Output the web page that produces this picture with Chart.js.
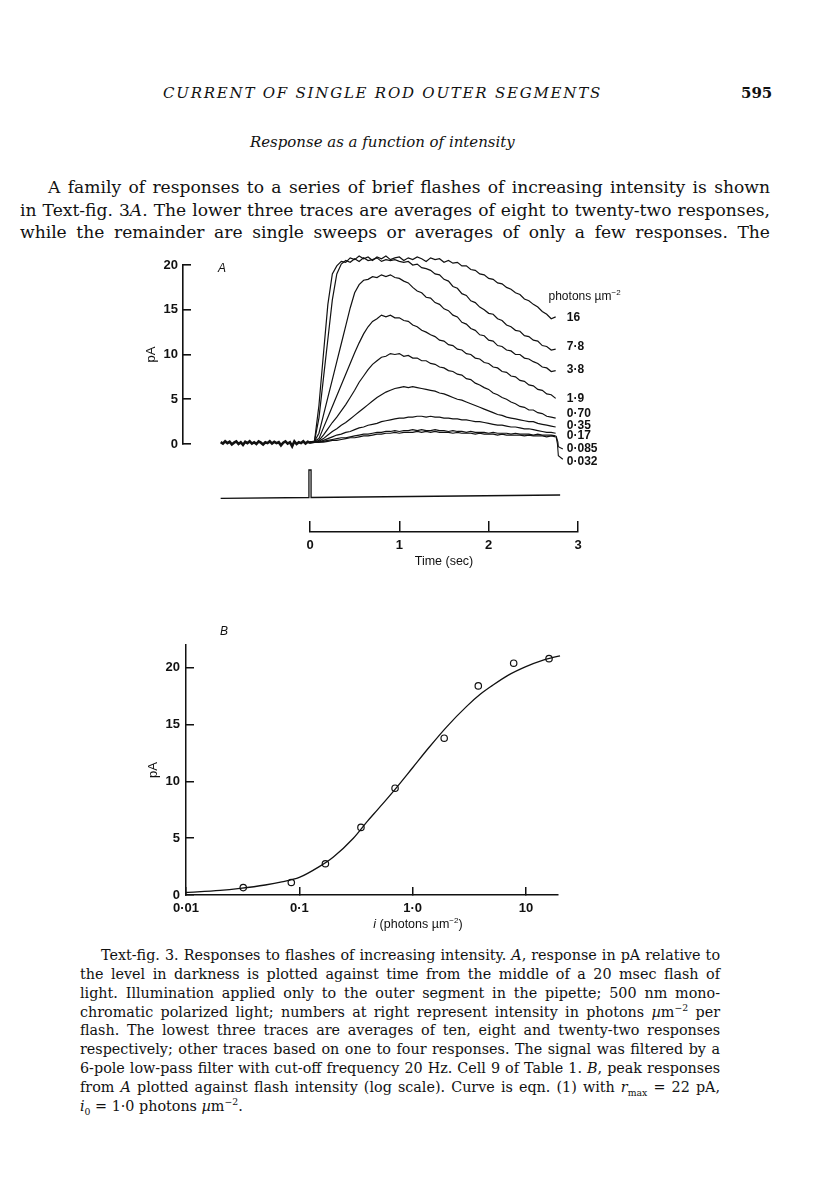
<!DOCTYPE html>
<html>
<head>
<meta charset="utf-8">
<script src="https://cdn.jsdelivr.net/npm/chart.js@4.4.1/dist/chart.umd.min.js"></script>
<style>
  body { margin:0; background:#fff; width:816px; height:1191px; position:relative; overflow:hidden;
         font-family:"DejaVu Serif", serif; color:#111; }
  .t { position:absolute; white-space:nowrap; }
  .j { position:absolute; text-align:justify; text-align-last:justify; }
  .cap { font-size:12.4px; line-height:18px; }
  .body { font-size:15px; line-height:20px; }
  sup, sub { font-size:0.65em; line-height:0; }
  canvas { position:absolute; left:0; }
</style>
</head>
<body>

<div class="t" id="runhead" style="left:163px;top:84px;font-size:15px;font-style:italic;">CURRENT OF SINGLE ROD OUTER SEGMENTS</div>
<div class="t" style="left:741px;top:84px;font-size:15px;font-weight:bold;">595</div>
<div class="t" id="subhead" style="left:250px;top:133px;font-size:14px;font-style:italic;">Response as a function of intensity</div>

<div class="j body" style="left:48px;top:177px;width:722px;">A family of responses to a series of brief flashes of increasing intensity is shown</div>
<div class="j body" style="left:20px;top:200px;width:750px;">in Text-fig. 3<i>A</i>. The lower three traces are averages of eight to twenty-two responses,</div>
<div class="j body" style="left:20px;top:222px;width:750px;">while the remainder are single sweeps or averages of only a few responses. The</div>

<canvas id="chartA" width="816" height="360" style="top:240px"></canvas>
<canvas id="chartT" width="816" height="70" style="top:510px"></canvas>
<canvas id="chartB" width="816" height="320" style="top:620px"></canvas>

<div class="j cap" style="left:101px;top:946px;width:619px;">Text-fig. 3. Responses to flashes of increasing intensity. <i>A</i>, response in pA relative to</div>
<div class="j cap" style="left:80px;top:965px;width:640px;">the level in darkness is plotted against time from the middle of a 20 msec flash of</div>
<div class="j cap" style="left:80px;top:984px;width:640px;">light. Illumination applied only to the outer segment in the pipette; 500 nm mono-</div>
<div class="j cap" style="left:80px;top:1003px;width:640px;">chromatic polarized light; numbers at right represent intensity in photons <i>µ</i>m<sup>−2</sup> per</div>
<div class="j cap" style="left:80px;top:1021px;width:640px;">flash. The lowest three traces are averages of ten, eight and twenty-two responses</div>
<div class="j cap" style="left:80px;top:1040px;width:640px;">respectively; other traces based on one to four responses. The signal was filtered by a</div>
<div class="j cap" style="left:80px;top:1059px;width:640px;">6-pole low-pass filter with cut-off frequency 20 Hz. Cell 9 of Table 1. <i>B</i>, peak responses</div>
<div class="j cap" style="left:80px;top:1078px;width:640px;">from <i>A</i> plotted against flash intensity (log scale). Curve is eqn. (1) with <i>r</i><sub>max</sub> = 22 pA,</div>
<div class="t cap" style="left:80px;top:1097px;"><i>i</i><sub>0</sub> = 1·0 photons <i>µ</i>m<sup>−2</sup>.</div>

<script>
// ---------- panel A : current traces (pA) against time (sec) ----------
var traceLabels = ['16', '7·8', '3·8', '1·9', '0·70', '0·35', '0·17', '0·085', '0·032'];

var traceTime = [0, 0.05, 0.1, 0.15, 0.2, 0.25, 0.3, 0.35, 0.4, 0.45,
  0.5, 0.55, 0.6, 0.65, 0.7, 0.75, 0.8, 0.85, 0.9, 0.95,
  1.0, 1.05, 1.1, 1.15, 1.2, 1.25, 1.3, 1.35, 1.4, 1.45,
  1.5, 1.55, 1.6, 1.65, 1.7, 1.75, 1.8, 1.85, 1.9, 1.95,
  2.0, 2.05, 2.1, 2.15, 2.2, 2.25, 2.3, 2.35, 2.4, 2.45,
  2.5, 2.55, 2.6, 2.65, 2.7, 2.75];

var trace16 = [0.2, 0.3, 4.3, 10.0, 15.6, 19.0, 19.9, 20.4, 20.3, 20.8,
  20.6, 21.0, 20.7, 20.9, 20.5, 20.9, 20.7, 21.0, 20.6, 20.8,
  20.9, 20.5, 20.8, 20.6, 20.9, 20.7, 20.4, 20.8, 20.6, 20.7,
  20.3, 20.5, 20.2, 20.3, 19.9, 19.9, 19.5, 19.4, 19.0, 18.9,
  18.5, 18.4, 18.0, 17.9, 17.5, 17.3, 16.9, 16.7, 16.2, 16.0,
  15.6, 15.3, 14.8, 14.5, 14.0, 14.2];
var trace7_8 = [0.2, 0.3, 2.9, 7.3, 11.7, 16.1, 19.0, 20.1, 20.5, 20.3,
  20.7, 20.4, 20.8, 20.5, 20.6, 20.8, 20.4, 20.6, 20.5, 20.6,
  20.4, 20.3, 20.4, 20.0, 20.1, 19.7, 19.6, 19.4, 19.0, 18.9,
  18.4, 18.2, 17.6, 17.4, 16.8, 16.6, 16.0, 15.8, 15.3, 15.0,
  14.6, 14.5, 14.0, 13.8, 13.3, 13.1, 12.7, 12.6, 12.1, 12.0,
  11.6, 11.5, 11.0, 10.9, 10.5, 10.6];
var trace3_8 = [0.2, 0.3, 1.2, 3.2, 5.2, 7.2, 9.2, 11.2, 13.2, 15.2,
  16.9, 17.8, 18.3, 18.4, 18.7, 18.6, 18.9, 18.7, 18.9, 18.6,
  18.5, 18.2, 18.0, 17.5, 17.1, 16.9, 16.4, 16.3, 15.8, 15.6,
  15.1, 14.9, 14.4, 14.2, 13.6, 13.4, 12.9, 12.7, 12.2, 12.1,
  11.6, 11.5, 11.0, 10.9, 10.5, 10.4, 10.0, 10.0, 9.6, 9.5,
  9.2, 9.0, 8.6, 8.5, 8.1, 8.2];
var trace1_9 = [0.2, 0.3, 0.6, 1.8, 3.0, 4.2, 5.4, 6.6, 7.8, 9.0,
  10.2, 11.3, 12.3, 13.1, 13.7, 14.0, 14.4, 14.2, 14.4, 14.1,
  14.1, 13.8, 13.7, 13.3, 13.1, 12.7, 12.5, 12.2, 12.0, 11.6,
  11.5, 11.1, 11.0, 10.6, 10.5, 10.1, 10.0, 9.6, 9.5, 9.1,
  9.0, 8.6, 8.5, 8.1, 8.0, 7.6, 7.5, 7.1, 7.0, 6.6,
  6.5, 6.1, 6.0, 5.6, 5.5, 5.1];
var trace0_70 = [0.2, 0.25, 0.4, 1.0, 1.7, 2.4, 3.0, 3.7, 4.4, 5.2,
  6.0, 6.9, 7.6, 8.3, 8.9, 9.3, 9.7, 9.8, 10.1, 10.0,
  10.1, 9.8, 9.9, 9.6, 9.6, 9.3, 9.3, 9.0, 8.9, 8.6,
  8.5, 8.2, 8.1, 7.8, 7.7, 7.3, 7.2, 6.8, 6.6, 6.3,
  6.1, 5.7, 5.5, 5.2, 5.0, 4.7, 4.5, 4.2, 4.1, 3.8,
  3.8, 3.5, 3.4, 3.1, 3.0, 2.9];
var trace0_35 = [0.2, 0.2, 0.3, 0.6, 1.0, 1.4, 1.7, 2.1, 2.4, 2.8,
  3.2, 3.6, 4.0, 4.4, 4.8, 5.2, 5.5, 5.8, 6.0, 6.2,
  6.3, 6.4, 6.3, 6.4, 6.3, 6.2, 6.1, 6.0, 5.9, 5.7,
  5.6, 5.4, 5.2, 5.0, 4.9, 4.7, 4.5, 4.3, 4.1, 3.9,
  3.7, 3.5, 3.3, 3.2, 3.0, 2.9, 2.8, 2.7, 2.6, 2.5,
  2.5, 2.3, 2.2, 2.1, 2.0, 1.9];
var trace0_17 = [0.2, 0.2, 0.2, 0.4, 0.6, 0.8, 1.0, 1.1, 1.3, 1.4,
  1.6, 1.8, 1.9, 2.1, 2.2, 2.3, 2.5, 2.6, 2.7, 2.8,
  2.9, 2.9, 3.0, 3.0, 3.1, 3.1, 3.0, 3.1, 3.0, 3.0,
  2.9, 2.9, 2.8, 2.8, 2.7, 2.7, 2.6, 2.5, 2.5, 2.4,
  2.3, 2.2, 2.1, 2.1, 2.0, 1.9, 1.9, 1.8, 1.7, 1.7,
  1.6, 1.5, 1.4, 1.3, 1.3, 1.2];
var trace0_085 = [0.2, 0.2, 0.2, 0.3, 0.4, 0.5, 0.6, 0.7, 0.7, 0.8,
  0.9, 1.0, 1.1, 1.1, 1.2, 1.3, 1.3, 1.4, 1.4, 1.5,
  1.4, 1.5, 1.5, 1.6, 1.5, 1.6, 1.5, 1.5, 1.6, 1.5,
  1.5, 1.4, 1.5, 1.4, 1.4, 1.3, 1.4, 1.3, 1.3, 1.3,
  1.2, 1.3, 1.2, 1.2, 1.2, 1.1, 1.2, 1.1, 1.1, 1.1,
  1.0, 1.1, 1.0, 1.0, 1.0, 0.9];
var trace0_032 = [0.2, 0.2, 0.2, 0.2, 0.3, 0.4, 0.4, 0.5, 0.6, 0.7,
  0.7, 0.8, 0.9, 0.9, 1.0, 1.1, 1.1, 1.2, 1.2, 1.3,
  1.2, 1.3, 1.3, 1.3, 1.4, 1.3, 1.4, 1.3, 1.4, 1.3,
  1.3, 1.3, 1.2, 1.3, 1.2, 1.2, 1.2, 1.1, 1.2, 1.1,
  1.1, 1.1, 1.0, 1.1, 1.0, 1.0, 1.0, 1.0, 0.9, 1.0,
  0.9, 0.9, 0.9, 0.8, 0.9, 0.8];

// dark baseline before the flash (all traces on top of each other)
var baselineTime = [-1.0, -0.975, -0.95, -0.925, -0.9, -0.875, -0.85, -0.825, -0.8, -0.775,
  -0.75, -0.725, -0.7, -0.675, -0.65, -0.625, -0.6, -0.575, -0.55, -0.525,
  -0.5, -0.475, -0.45, -0.425, -0.4, -0.375, -0.35, -0.325, -0.3, -0.275,
  -0.25, -0.225, -0.2, -0.175, -0.15, -0.125, -0.1, -0.075, -0.05, -0.025,
  0, 0.025, 0.05];
var baselineCurrent = [0.2, 0.05, 0.3, 0.1, 0.25, -0.05, 0.15, 0.3, 0.0, 0.2,
  -0.1, 0.25, 0.1, 0.3, 0.05, 0.2, 0.0, 0.3, 0.15, -0.05,
  0.2, 0.1, 0.3, 0.05, 0.25, 0.1, 0.2, -0.15, 0.15, 0.3,
  0.05, 0.2, -0.25, 0.3, 0.0, 0.2, 0.1, 0.3, 0.05, 0.25,
  0.15, 0.2, 0.25];

// flash monitor (arbitrary units, 1 = flash on)
var stimTime = [-1.0, -0.012, -0.012, 0.012, 0.012, 2.8];
var stimLevel = [-0.03, 0.0, 1, 1, 0.0, 0.09];

var currentTicks = [0, 5, 10, 15, 20];
var timeTicks = [0, 1, 2, 3];

// ---------- panel B : peak response against flash intensity ----------
var flashIntensity = [0.032, 0.085, 0.17, 0.35, 0.70, 1.9, 3.8, 7.8, 16];
var peakResponse = [0.65, 1.1, 2.75, 5.95, 9.4, 13.8, 18.4, 20.4, 20.8];

var curveIntensity = [0.01, 0.02, 0.03, 0.05, 0.07, 0.1, 0.15, 0.2, 0.3, 0.4, 0.5,
  0.7, 1.0, 1.4, 2.0, 3.0, 4.0, 5.0, 7.0, 10, 14, 20];
var curveResponse = [0.22, 0.4, 0.58, 0.88, 1.15, 1.55, 2.5, 3.35, 5.0, 6.5, 7.6,
  9.3, 11.2, 13.0, 14.8, 16.6, 17.7, 18.4, 19.35, 20.1, 20.65, 21.05];

var intensityTicks = [0.01, 0.1, 1, 10];
var intensityTickLabels = ['0·01', '0·1', '1·0', '10'];
var responseTicks = [0, 5, 10, 15, 20];

// ---------- annotation placement (data units) ----------
var labelTime = 2.875;
var labelLevel = [14.1, 10.9, 8.3, 5.1, 3.35, 2.1, 0.9, -0.56, -2.0];
var leaderLines = [
  [[2.755, 0.9], [2.775, 0.2], [2.78, -0.3], [2.83, -0.55]],
  [[2.755, 0.8], [2.77, 0.0], [2.78, -1.3], [2.83, -1.7]]
];

var INK = '#111';
var SANS = '"Liberation Sans", Arial, sans-serif';
Chart.defaults.font.family = SANS;
Chart.defaults.color = INK;

function xy(xs, ys) {
  return xs.map(function(x, i) { return {x: x, y: ys[i]}; });
}

function drawRich(ctx, parts, x, y, centered) {
  var w = 0;
  parts.forEach(function(p) { ctx.font = p.font; w += ctx.measureText(p.text).width; });
  var cx = centered ? x - w / 2 : x;
  parts.forEach(function(p) {
    ctx.font = p.font;
    ctx.fillText(p.text, cx, y + (p.dy || 0));
    cx += ctx.measureText(p.text).width;
  });
}

function line(data, width, axis) {
  return {
    data: data, showLine: true, borderColor: INK, borderWidth: width,
    pointRadius: 0, tension: 0, clip: false, yAxisID: axis || 'y'
  };
}

// ---------- chart A ----------
var traces = [trace16, trace7_8, trace3_8, trace1_9, trace0_70, trace0_35, trace0_17, trace0_085, trace0_032];
var datasetsA = traces.map(function(vals) { return line(xy(traceTime, vals), 1.2); });
datasetsA.push(line(xy(baselineTime, baselineCurrent), 2.6));
datasetsA.push(line(xy(stimTime, stimLevel), 1.3, 'stim'));
leaderLines.forEach(function(pts) {
  datasetsA.push(line(pts.map(function(p) { return {x: p[0], y: p[1]}; }), 1.1));
});

var labelsA = {
  id: 'labelsA',
  afterDraw: function(chart) {
    var ctx = chart.ctx, xs = chart.scales.x, ys = chart.scales.y;
    ctx.save();
    ctx.fillStyle = INK;
    ctx.textBaseline = 'middle';
    ctx.textAlign = 'left';
    ctx.font = 'bold 12px ' + SANS;
    traceLabels.forEach(function(lab, i) {
      ctx.fillText(lab, xs.getPixelForValue(labelTime), ys.getPixelForValue(labelLevel[i]));
    });
    drawRich(ctx, [
      {text: 'photons µm', font: '12px ' + SANS},
      {text: '−2', font: '8px ' + SANS, dy: -4}
    ], xs.getPixelForValue(2.67), ys.getPixelForValue(16.5), false);
    ctx.font = 'italic 12px ' + SANS;
    ctx.fillText('A', chart.chartArea.left + 35, chart.chartArea.top + 4);
    ctx.restore();
  }
};

new Chart(document.getElementById('chartA'), {
  type: 'scatter',
  data: {datasets: datasetsA},
  options: {
    responsive: false, animation: false, devicePixelRatio: 1,
    layout: {padding: {left: 143, right: 238, top: 25, bottom: 156}},
    plugins: {legend: {display: false}, tooltip: {enabled: false}},
    scales: {
      x: {type: 'linear', display: false, min: -1.4216, max: 3},
      y: {
        type: 'linear', min: 0, max: 20,
        afterFit: function(s) { s.width = 40; },
        afterBuildTicks: function(s) { s.ticks = currentTicks.map(function(v) { return {value: v}; }); },
        border: {display: true, color: INK, width: 1.6},
        grid: {drawOnChartArea: false, drawTicks: true, tickLength: -8, color: INK, lineWidth: 1.6},
        ticks: {padding: 13, color: INK, font: {size: 13, weight: 'bold'}},
        title: {display: true, text: 'pA', color: INK, padding: {top: 1, bottom: 0}, font: {size: 13}}
      },
      // flash monitor: 0 sits 53 px under the 0 pA line, 1 is 27.5 px higher
      stim: {axis: 'y', type: 'linear', display: false, position: 'right', min: 1.945, max: 8.454}
    }
  },
  plugins: [labelsA]
});

// ---------- time scale bar under panel A ----------
new Chart(document.getElementById('chartT'), {
  type: 'scatter',
  data: {datasets: []},
  options: {
    responsive: false, animation: false, devicePixelRatio: 1,
    layout: {padding: {left: 310, right: 238, top: 11, bottom: 7}},
    plugins: {legend: {display: false}, tooltip: {enabled: false}},
    scales: {
      x: {
        type: 'linear', min: 0, max: 3,
        afterFit: function(s) { s.height = 41; },
        afterBuildTicks: function(s) { s.ticks = timeTicks.map(function(v) { return {value: v}; }); },
        border: {display: true, color: INK, width: 1.5},
        grid: {drawOnChartArea: true, drawTicks: false, color: INK, lineWidth: 1.5},
        ticks: {padding: 6, color: INK, font: {size: 13, weight: 'bold'}},
        title: {display: true, text: 'Time (sec)', color: INK, padding: {top: 0, bottom: 4}, font: {size: 12.5}}
      },
      y: {display: false, min: 0, max: 1}
    }
  }
});

// ---------- chart B ----------
var labelsB = {
  id: 'labelsB',
  afterDraw: function(chart) {
    var ctx = chart.ctx, area = chart.chartArea;
    ctx.save();
    ctx.fillStyle = INK;
    ctx.textBaseline = 'middle';
    ctx.textAlign = 'left';
    ctx.font = 'italic 12px ' + SANS;
    ctx.fillText('B', area.left + 34, area.top - 13);
    drawRich(ctx, [
      {text: 'i', font: 'italic 12.5px ' + SANS},
      {text: ' (photons µm', font: '12.5px ' + SANS},
      {text: '−2', font: '8px ' + SANS, dy: -4},
      {text: ')', font: '12.5px ' + SANS}
    ], area.left + 232, area.bottom + 30, true);
    ctx.restore();
  }
};

new Chart(document.getElementById('chartB'), {
  type: 'scatter',
  data: {
    datasets: [
      {
        data: xy(curveIntensity, curveResponse), showLine: true, borderColor: INK, borderWidth: 1.3,
        pointRadius: 0, cubicInterpolationMode: 'monotone', clip: false
      },
      {
        data: xy(flashIntensity, peakResponse), showLine: false, pointRadius: 3.2,
        pointBorderWidth: 1.2, pointBorderColor: INK, pointBackgroundColor: '#fff'
      }
    ]
  },
  options: {
    responsive: false, animation: false, devicePixelRatio: 1,
    layout: {padding: {left: 146, right: 258, top: 25, bottom: 5}},
    plugins: {legend: {display: false}, tooltip: {enabled: false}},
    scales: {
      x: {
        type: 'logarithmic', min: 0.01, max: 19.2,
        afterFit: function(s) { s.height = 40; },
        afterBuildTicks: function(s) { s.ticks = intensityTicks.map(function(v) { return {value: v}; }); },
        border: {display: true, color: INK, width: 1.5},
        grid: {drawOnChartArea: false, drawTicks: true, tickLength: -8, color: INK, lineWidth: 1.5},
        ticks: {
          padding: 14, autoSkip: false, maxRotation: 0, color: INK, font: {size: 13, weight: 'bold'},
          callback: function(v) { return intensityTickLabels[intensityTicks.indexOf(v)]; }
        }
      },
      y: {
        type: 'linear', min: 0, max: 22,
        afterFit: function(s) { s.width = 40; },
        afterBuildTicks: function(s) { s.ticks = responseTicks.map(function(v) { return {value: v}; }); },
        border: {display: true, color: INK, width: 1.5},
        grid: {drawOnChartArea: false, drawTicks: true, tickLength: -8, color: INK, lineWidth: 1.5},
        ticks: {padding: 14, color: INK, font: {size: 13, weight: 'bold'}},
        title: {display: true, text: 'pA', color: INK, padding: {top: 0, bottom: 0}, font: {size: 13}}
      }
    }
  },
  plugins: [labelsB]
});

// ---------- page text: size each block so its lines fill the printed measure ----------
function naturalWidth(el) {
  var probe = el.cloneNode(true);
  probe.style.textAlign = 'left';
  probe.style.textAlignLast = 'left';
  probe.style.width = 'auto';
  probe.style.whiteSpace = 'nowrap';
  probe.style.visibility = 'hidden';
  document.body.appendChild(probe);
  var w = probe.getBoundingClientRect().width;
  document.body.removeChild(probe);
  return w;
}

function fitBlock(cls) {
  var lines = Array.prototype.slice.call(document.querySelectorAll('.' + cls));
  var base = parseFloat(getComputedStyle(lines[0]).fontSize);
  var ratio = Infinity;
  lines.forEach(function(el) {
    if (!el.classList.contains('j')) return;
    ratio = Math.min(ratio, parseFloat(el.style.width) / naturalWidth(el));
  });
  var size = (base * ratio * 0.99) + 'px';
  lines.forEach(function(el) { el.style.fontSize = size; });
}
fitBlock('body');
fitBlock('cap');

function fitSize(id, target) {
  var el = document.getElementById(id);
  var base = parseFloat(getComputedStyle(el).fontSize);
  el.style.fontSize = (base * target / el.getBoundingClientRect().width) + 'px';
}
fitSize('subhead', 265);

// stretch the running head to the printed width
var rh = document.getElementById('runhead');
var natural = rh.getBoundingClientRect().width;
rh.style.letterSpacing = ((439 - natural) / rh.textContent.length) + 'px';
</script>
</body>
</html>
